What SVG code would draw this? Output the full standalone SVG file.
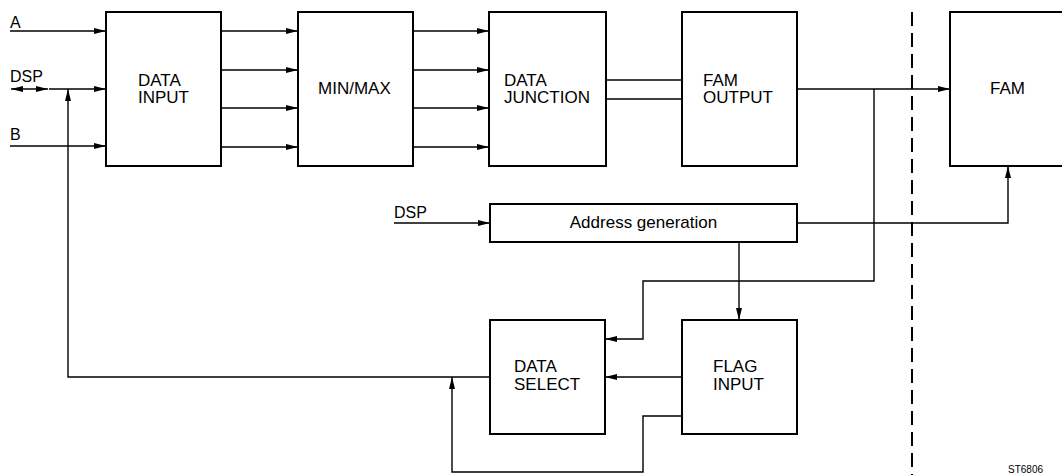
<svg xmlns="http://www.w3.org/2000/svg" width="1062" height="475" viewBox="0 0 1062 475">
<style>
.box{fill:#fff;stroke:#000;stroke-width:2}
.ln{fill:none;stroke:#000;stroke-width:1.4}
.t{font-family:"Liberation Sans",Arial,sans-serif;font-size:17px;fill:#000}
.lbl{font-family:"Liberation Sans",Arial,sans-serif;font-size:16px;fill:#000}
.dash{fill:none;stroke:#000;stroke-width:2;stroke-dasharray:14 7}
</style>
<defs>
<marker id="ah" viewBox="0 0 12 6" refX="12" refY="3" markerWidth="12" markerHeight="6" markerUnits="userSpaceOnUse" orient="auto-start-reverse">
<path d="M0,0 L12,3 L0,6 Z" fill="#000"/>
</marker>
</defs>
<rect width="1062" height="475" fill="#fff"/>
<g id="connectors">
<line class="ln" x1="10" y1="31" x2="106" y2="31" marker-end="url(#ah)"/>
<line class="ln" x1="11" y1="89" x2="48" y2="89" marker-start="url(#ah)" marker-end="url(#ah)"/>
<line class="ln" x1="49" y1="89" x2="106" y2="89" marker-end="url(#ah)"/>
<line class="ln" x1="10" y1="146" x2="106" y2="146" marker-end="url(#ah)"/>
<line class="ln" x1="221" y1="31" x2="298" y2="31" marker-end="url(#ah)"/>
<line class="ln" x1="221" y1="70" x2="298" y2="70" marker-end="url(#ah)"/>
<line class="ln" x1="221" y1="108" x2="298" y2="108" marker-end="url(#ah)"/>
<line class="ln" x1="221" y1="147" x2="298" y2="147" marker-end="url(#ah)"/>
<line class="ln" x1="413" y1="31" x2="489" y2="31" marker-end="url(#ah)"/>
<line class="ln" x1="413" y1="70" x2="489" y2="70" marker-end="url(#ah)"/>
<line class="ln" x1="413" y1="108" x2="489" y2="108" marker-end="url(#ah)"/>
<line class="ln" x1="413" y1="147" x2="489" y2="147" marker-end="url(#ah)"/>
<line class="ln" x1="606" y1="80" x2="682" y2="80"/>
<line class="ln" x1="606" y1="99" x2="682" y2="99"/>
<line class="ln" x1="797" y1="89" x2="950" y2="89" marker-end="url(#ah)"/>
<polyline class="ln" points="874,89 874,281 643,281 643,339 605,339" marker-end="url(#ah)"/>
<line class="ln" x1="394" y1="223" x2="490" y2="223" marker-end="url(#ah)"/>
<polyline class="ln" points="797,223 1008,223 1008,166" marker-end="url(#ah)"/>
<line class="ln" x1="739" y1="242" x2="739" y2="320" marker-end="url(#ah)"/>
<line class="ln" x1="682" y1="377" x2="605" y2="377" marker-end="url(#ah)"/>
<polyline class="ln" points="490,377 68,377 68,89" marker-end="url(#ah)"/>
<polyline class="ln" points="682,416 643,416 643,472 452,472 452,377" marker-end="url(#ah)"/>
<line class="dash" x1="912" y1="12" x2="912" y2="475"/>
</g>
<g id="labels">
<text class="lbl" x="10" y="28">A</text>
<text class="lbl" x="10" y="82">DSP</text>
<text class="lbl" x="10" y="140">B</text>
<text class="lbl" x="394" y="218">DSP</text>
<text x="1008" y="473" font-family="Liberation Sans,Arial,sans-serif" font-size="10">ST6806</text>
</g>
<g id="data-input"><rect class="box" x="106" y="12" width="115" height="154"/><text class="t" x="138" y="86">DATA</text><text class="t" x="138" y="103">INPUT</text></g>
<g id="min-max"><rect class="box" x="298" y="12" width="115" height="154"/><text class="t" x="318" y="94">MIN/MAX</text></g>
<g id="data-junction"><rect class="box" x="489" y="12" width="117" height="154"/><text class="t" x="504" y="86">DATA</text><text class="t" x="504" y="103">JUNCTION</text></g>
<g id="fam-output"><rect class="box" x="682" y="12" width="115" height="154"/><text class="t" x="703" y="86">FAM</text><text class="t" x="703" y="103">OUTPUT</text></g>
<g id="fam"><rect class="box" x="950" y="12" width="130" height="154"/><text class="t" x="990" y="94">FAM</text></g>
<g id="address-generation"><rect class="box" x="490" y="204" width="307" height="38"/><text class="t" x="643.5" y="228" text-anchor="middle">Address generation</text></g>
<g id="data-select"><rect class="box" x="490" y="320" width="115" height="114"/><text class="t" x="514" y="372">DATA</text><text class="t" x="514" y="390">SELECT</text></g>
<g id="flag-input"><rect class="box" x="682" y="320" width="115" height="114"/><text class="t" x="713" y="372">FLAG</text><text class="t" x="713" y="390">INPUT</text></g>
</svg>
